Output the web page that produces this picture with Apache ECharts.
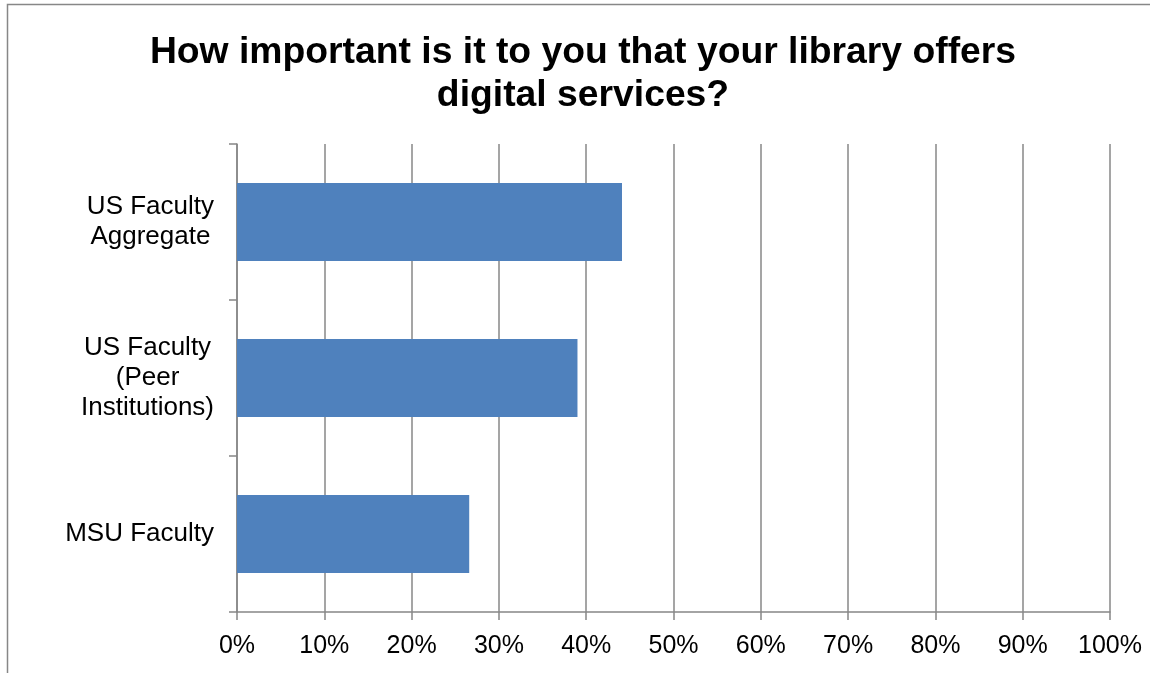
<!DOCTYPE html>
<html>
<head>
<meta charset="utf-8">
<script src="https://cdn.jsdelivr.net/npm/echarts@6/dist/echarts.min.js"></script>
<style>
html,body{margin:0;padding:0;background:#fff;}
#chart{width:1150px;height:673px;}
</style>
</head>
<body>
<div id="chart"></div>
<script>
// Data
const titleText = "How important is it to you that your library offers\ndigital services?";
const categories = ["US Faculty Aggregate", "US Faculty (Peer Institutions)", "MSU Faculty"];
const categoryLines = [["US Faculty", "Aggregate"], ["US Faculty", "(Peer", "Institutions)"], ["MSU Faculty"]];
const values = [44.1, 39.0, 26.6];
const xTicks = [0, 10, 20, 30, 40, 50, 60, 70, 80, 90, 100];

const chart = echarts.init(document.getElementById('chart'), null, {renderer: 'canvas'});
const axisGray = '#878787';
const font = 'Liberation Sans, Arial, sans-serif';

chart.setOption({
  animation: false,
  backgroundColor: '#ffffff',
  title: {
    text: titleText,
    left: 583,
    top: 31,
    padding: 0,
    textAlign: 'center',
    textStyle: {fontFamily: font, fontSize: 37.3, fontWeight: 'bold', color: '#000', lineHeight: 43}
  },
  graphic: [{
    type: 'rect',
    shape: {x: 7.5, y: 4.5, width: 1300, height: 800},
    style: {fill: 'none', stroke: axisGray, lineWidth: 1.5},
    silent: true
  }],
  grid: {left: 237, right: 40, top: 144, bottom: 61, containLabel: false},
  xAxis: {
    type: 'value',
    min: xTicks[0],
    max: xTicks[xTicks.length - 1],
    interval: 10,
    axisLine: {show: true, lineStyle: {color: axisGray, width: 1.5}},
    axisTick: {show: true, length: 8, lineStyle: {color: axisGray, width: 1.5}},
    splitLine: {show: true, lineStyle: {color: axisGray, width: 1.5}},
    axisLabel: {
      margin: 22,
      fontFamily: font, fontSize: 25, color: '#000',
      formatter: v => v + '%'
    }
  },
  yAxis: {
    type: 'category',
    data: categories,
    inverse: true,
    axisLine: {show: true, lineStyle: {color: axisGray, width: 1.5}},
    axisTick: {show: true, length: 8, lineStyle: {color: axisGray, width: 1.5}},
    axisLabel: {
      margin: 23,
      fontFamily: font, fontSize: 26, color: '#000', lineHeight: 30,
      formatter: (v, i) => categoryLines[i].map(s => '{c|' + s + '}').join('\n'),
      rich: {c: {align: 'center', fontFamily: font, fontSize: 26, color: '#000', lineHeight: 30}}
    }
  },
  series: [{
    type: 'bar',
    data: values,
    barWidth: '50%',
    itemStyle: {color: '#4F81BD'}
  }]
});
</script>
</body>
</html>
